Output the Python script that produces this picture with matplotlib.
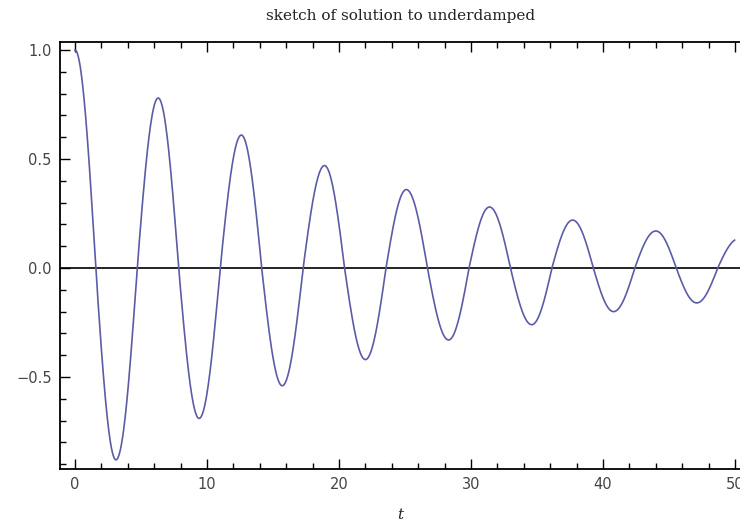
import numpy as np
import matplotlib.pyplot as plt
from matplotlib.ticker import MultipleLocator

# values: extremes of the oscillation and its zero crossings
ext_t = [0.0, 3.1, 6.3, 9.4, 12.6, 15.7, 18.9, 22.0, 25.1, 28.3, 31.4, 34.6,
         37.7, 40.8, 44.0, 47.1, 50.3]
ext_y = [1.0, -0.88, 0.78, -0.69, 0.61, -0.54, 0.47, -0.42, 0.36, -0.33, 0.28,
         -0.26, 0.22, -0.20, 0.17, -0.16, 0.135]
zero_t = [1.57, 4.71, 7.85, 11.0, 14.14, 17.28, 20.42, 23.56, 26.7, 29.85,
          32.99, 36.13, 39.27, 42.41, 45.55, 48.69]
t_end = 50.0


def sketch_curve(ext_t, ext_y, zero_t):
    # join the read points with quarter-wave arcs
    ts, ys = [], []
    for i, z in enumerate(zero_t):
        a = np.linspace(ext_t[i], z, 40)
        ts.append(a)
        ys.append(ext_y[i] * np.cos(np.pi / 2 * (a - ext_t[i]) / (z - ext_t[i])))
        b = np.linspace(z, ext_t[i + 1], 40)
        ts.append(b)
        ys.append(ext_y[i + 1] * np.sin(np.pi / 2 * (b - z) / (ext_t[i + 1] - z)))
    t = np.concatenate(ts)
    y = np.concatenate(ys)
    keep = t <= t_end
    return t[keep], y[keep]


t, y = sketch_curve(ext_t, ext_y, zero_t)

fig = plt.figure(figsize=(7.4, 5.31), dpi=100)
ax = fig.add_axes([60 / 740, 62 / 531, 680 / 740, 427 / 531])

ax.axhline(0, color='black', lw=1.2, zorder=1)
ax.plot(t, y, color='#5c5ca6', lw=1.2, zorder=2)

ax.set_xlim(-1.14, 50.38)
ax.set_ylim(-0.922, 1.037)

ax.xaxis.set_major_locator(MultipleLocator(10))
ax.xaxis.set_minor_locator(MultipleLocator(2))
ax.yaxis.set_major_locator(MultipleLocator(0.5))
ax.yaxis.set_minor_locator(MultipleLocator(0.1))
ax.yaxis.set_major_formatter(plt.FuncFormatter(lambda v, p: f'{v:.1f}'.replace('-', '\u2212')))

ax.tick_params(which='both', direction='in', top=True, right=False,
               colors='black', labelcolor='#444444', labelsize=10.5, width=1.0)
ax.tick_params(which='major', length=7, pad=6)
ax.tick_params(which='minor', length=4)
for lab in ax.get_xticklabels() + ax.get_yticklabels():
    lab.set_fontfamily('DejaVu Sans')

for side in ['left', 'bottom', 'top']:
    ax.spines[side].set_linewidth(1.3)
ax.spines['right'].set_visible(False)

fig.text(0.541, 1 - 16 / 531, 'sketch of solution to underdamped',
         ha='center', va='center', family='DejaVu Serif', fontsize=11,
         color='#222222')
fig.text(0.541, 1 - 515 / 531, 't', ha='center', va='center',
         family='DejaVu Serif', style='italic', fontsize=11, color='#222222')

fig.savefig('out.png', dpi=100)
